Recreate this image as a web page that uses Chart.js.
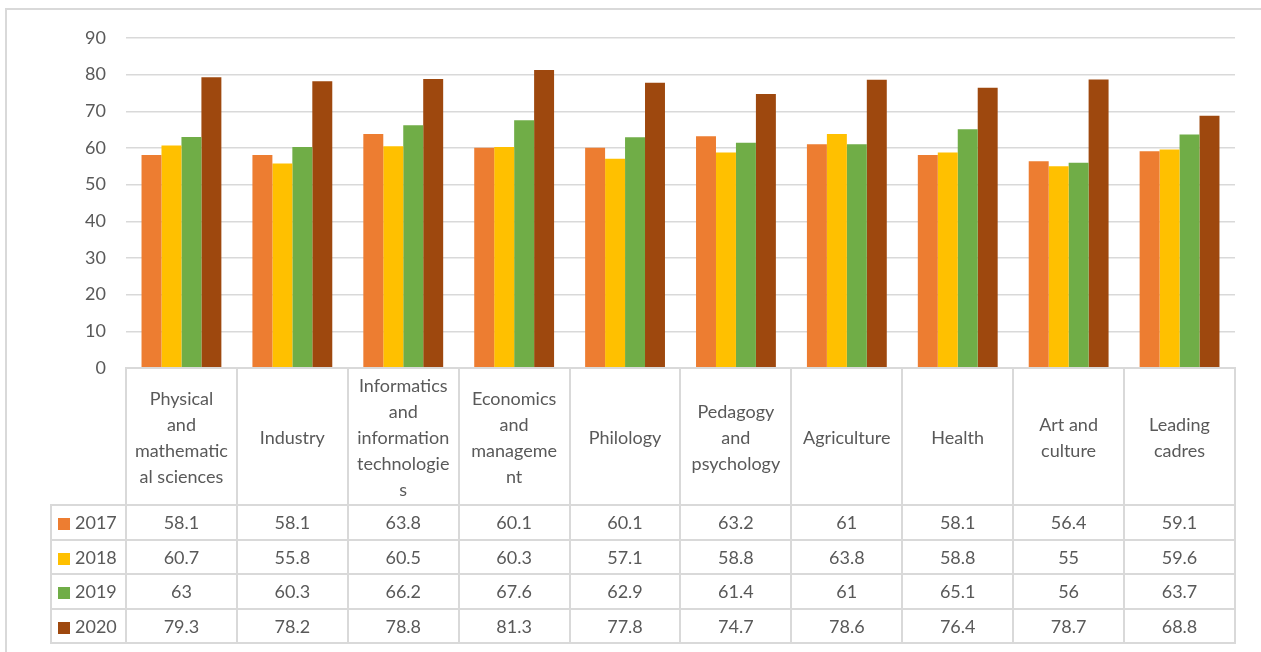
<!DOCTYPE html>
<html>
<head>
<meta charset="utf-8">
<script src="https://cdn.jsdelivr.net/npm/chart.js@4.4.1/dist/chart.umd.min.js"></script>
<style>
    body { margin: 0; background: #fff; font-family: Lato, sans-serif; color: #595959; }
    #wrap { position: relative; width: 1261px; height: 652px; overflow: hidden; }
    #frame { position: absolute; left: 5px; top: 8px; width: 1300px; height: 700px; border: 2px solid #d9d9d9; box-sizing: border-box; }
    #box { position: absolute; left: 0; top: 0; width: 1261px; height: 652px; }
    #table { position: absolute; border-collapse: collapse; table-layout: fixed; font-size: 18px; color: #595959; }
    #table td { border: 2px solid #d9d9d9; text-align: center; padding: 0; line-height: 26px; white-space: nowrap; }
    #table td.lg { text-align: left; padding-left: 6px; }
    #table td.lg i { display: inline-block; width: 12px; height: 12px; margin-right: 5px; vertical-align: -1px; }
</style>
</head>
<body>
<div id="wrap">
    <div id="frame"></div>
    <div id="box"><canvas id="chartBars"></canvas></div>
    <table id="table"></table>
</div>
<script>
// categorias, cada uma com as quebras de linha da tabela
const categories = [
    ['Physical', 'and', 'mathematic', 'al sciences'],
    ['Industry'],
    ['Informatics', 'and', 'information', 'technologie', 's'],
    ['Economics', 'and', 'manageme', 'nt'],
    ['Philology'],
    ['Pedagogy', 'and', 'psychology'],
    ['Agriculture'],
    ['Health'],
    ['Art and', 'culture'],
    ['Leading', 'cadres']
];
const years = ['2017', '2018', '2019', '2020'];
const colors = ['#ED7D31', '#FFC000', '#70AD47', '#9E480E'];

const values2017 = [58.1, 58.1, 63.8, 60.1, 60.1, 63.2, 61, 58.1, 56.4, 59.1];
const values2018 = [60.7, 55.8, 60.5, 60.3, 57.1, 58.8, 63.8, 58.8, 55, 59.6];
const values2019 = [63, 60.3, 66.2, 67.6, 62.9, 61.4, 61, 65.1, 56, 63.7];
const values2020 = [79.3, 78.2, 78.8, 81.3, 77.8, 74.7, 78.6, 76.4, 78.7, 68.8];
const series = [values2017, values2018, values2019, values2020];

const yMin = 0, yMax = 90, yStep = 10;

const chart = new Chart(document.getElementById('chartBars').getContext('2d'), {
    type: 'bar',
    data: {
        labels: categories,
        datasets: years.map((y, i) => ({
            label: y,
            data: series[i],
            backgroundColor: colors[i],
            borderWidth: 0,
            categoryPercentage: 0.72,
            barPercentage: 1.0
        }))
    },
    options: {
        responsive: true,
        maintainAspectRatio: false,
        animation: false,
        layout: { padding: { left: 0, top: 38, right: 26, bottom: 284 } },
        plugins: { legend: { display: false }, tooltip: { enabled: false } },
        scales: {
            x: { display: false },
            y: {
                min: yMin, max: yMax,
                border: { display: false },
                grid: { color: '#d9d9d9', lineWidth: 1.5, drawTicks: false },
                ticks: { stepSize: yStep, padding: 20, color: '#595959', font: { family: 'Lato', size: 18 } },
                afterFit: (s) => { s.width = 126; }
            }
        }
    }
});

// tabela de dados alinhada com a escala x
function buildTable() {
    const x = chart.scales.x;
    const area = chart.chartArea;
    const legendLeft = 51;
    const table = document.getElementById('table');
    const widths = categories.map((c, i) => x.getPixelForValue(i + 0.5) - x.getPixelForValue(i - 0.5));
    const first = x.getPixelForValue(-0.5) - legendLeft;

    table.style.left = (legendLeft - 1) + 'px';
    table.style.top = (area.bottom - 1) + 'px';
    table.style.width = (first + widths.reduce((a, b) => a + b, 0) + 2) + 'px';

    let html = '<colgroup><col style="width:' + first + 'px">' +
        widths.map(w => '<col style="width:' + w + 'px">').join('') + '</colgroup>';
    html += '<tr style="height:137px"><td style="border-top:none;border-left:none"></td>' +
        categories.map(c => '<td>' + c.join('<br>') + '</td>').join('') + '</tr>';
    years.forEach((y, i) => {
        html += '<tr style="height:34.5px"><td class="lg"><i style="background:' + colors[i] + '"></i>' + y + '</td>' +
            series[i].map(v => '<td>' + v + '</td>').join('') + '</tr>';
    });
    table.innerHTML = html;
}

buildTable();
</script>
</body>
</html>
